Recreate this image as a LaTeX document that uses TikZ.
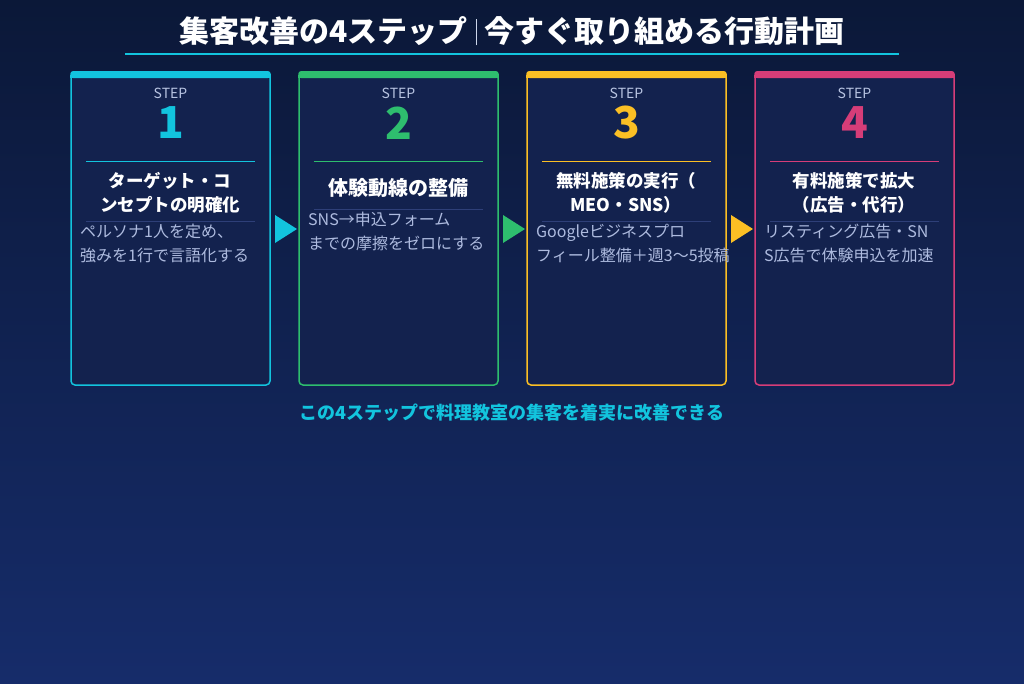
\documentclass[tikz,border=0pt]{standalone}
\usepackage{fontspec}
\setmainfont{Noto Sans CJK JP}
\definecolor{bgtop}{HTML}{0B1838}
\definecolor{bgbot}{HTML}{162C6A}
\definecolor{card}{HTML}{13224E}
\definecolor{cyanc}{HTML}{12C4DE}
\definecolor{greenc}{HTML}{2EBE6E}
\definecolor{yellowc}{HTML}{FBBF24}
\definecolor{pinkc}{HTML}{D63D78}
\definecolor{stepc}{HTML}{B8C4E2}
\definecolor{descc}{HTML}{AEBBDF}
\definecolor{sepc}{HTML}{2E3F78}
\tikzset{
 cardbox/.style={draw=#1, line width=1.5pt, fill=card, rounded corners=4pt},
 steplabel/.style={text=stepc, font=\fontsize{14}{16}\selectfont},
 numlabel/.style={text=#1, font=\fontsize{44}{44}\selectfont\bfseries},
 titlelabel/.style={text=white, font=\fontsize{17.5}{24}\selectfont\bfseries, align=center},
 desclabel/.style={text=descc, font=\fontsize{16}{24}\selectfont, align=left, anchor=north west, inner sep=0pt},
 arrowtri/.style={fill=#1, draw=none},
}
\begin{document}
\begin{tikzpicture}[x=1pt,y=-1pt]
\shade[top color=bgtop, bottom color=bgbot] (0,0) rectangle (1024,683);
\useasboundingbox (0,0) rectangle (1024,683);
% title
\node (title) at (512,31) {\textcolor{white}{\fontsize{30}{32}\selectfont\bfseries 集客改善の4ステップ\hspace{8pt}\textcolor{stepc!70}{\rule[-3pt]{0.8pt}{26pt}}\hspace{8pt}今すぐ取り組める行動計画}};
\draw[cyanc, line width=2.5pt] (125,54) coordinate (ul1) -- (899,54) coordinate (ul2);
% cards
\foreach \i/\x/\c/\n in {1/71/cyanc/1,2/299/greenc/2,3/527/yellowc/3,4/755/pinkc/4}{
  \draw[cardbox=\c] (\x,73) rectangle (\x+199,385);
  \fill[\c, rounded corners=3pt] (\x-0.75,71) rectangle (\x+199.75,78);
  \fill[\c] (\x-0.75,75) rectangle (\x+199.75,78);
  \node[steplabel] (s\i) at (\x+99.5,93) {STEP};
  \node[numlabel=\c] (n\i) at (\x+99.5,123) {\n};
  \draw[\c, line width=0.8pt] (\x+15,161) -- (\x+184,161);
}
\node[titlelabel] (t1) at (170,193) {ターゲット・コ\\ンセプトの明確化};
\node[titlelabel] (t2) at (398,188) {\fontsize{20}{24}\selectfont 体験動線の整備};
\node[titlelabel] (t3) at (626,193) {無料施策の実行（\\MEO・SNS）};
\node[titlelabel] (t4) at (854,193) {有料施策で拡大\\（広告・代行）};
\foreach \x/\y in {71/221,299/209,527/221,755/221}{
  \draw[sepc, line width=0.8pt] (\x+15,\y) -- (\x+184,\y);
}
\node[desclabel] (d1) at (80,224) {ペルソナ1人を定め、\\強みを1行で言語化する};
\node[desclabel] (d2) at (308,212) {SNS→申込フォーム\\までの摩擦をゼロにする};
\node[desclabel] (d3) at (536,224) {Googleビジネスプロ\\フィール整備＋週3〜5投稿};
\node[desclabel] (d4) at (764,224) {リスティング広告・SN\\S広告で体験申込を加速};
% arrows
\foreach \x/\c in {275/cyanc,503/greenc,731/yellowc}{
  \fill[arrowtri=\c] (\x,215) -- (\x+22,229) -- (\x,243) -- cycle;
}
\node[text=cyanc, font=\fontsize{18}{20}\selectfont\bfseries] (foot) at (512,413) {この4ステップで料理教室の集客を着実に改善できる};
\end{tikzpicture}
\end{document}
